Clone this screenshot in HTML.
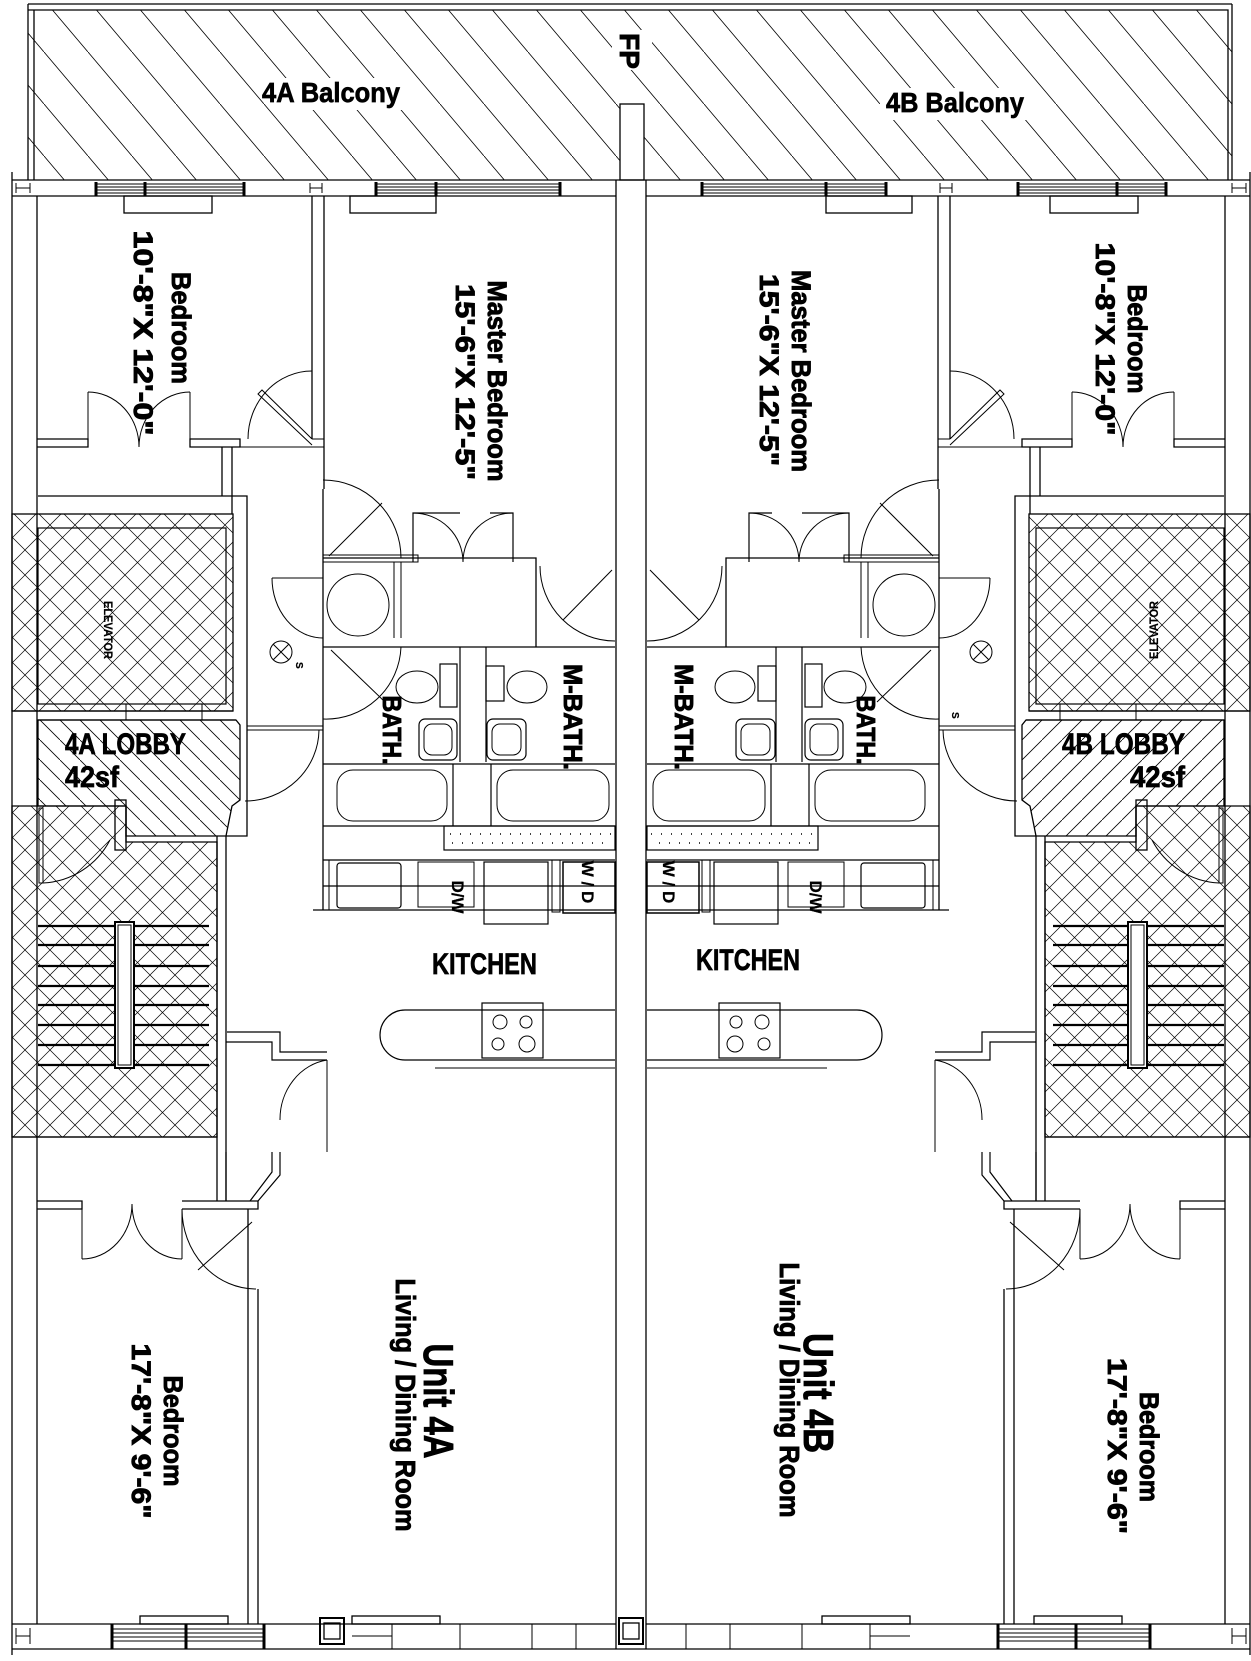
<!DOCTYPE html>
<html><head><meta charset="utf-8"><style>
html,body{margin:0;padding:0;background:#fff;}
svg{display:block;}
text{font-family:"Liberation Sans Narrow","Liberation Sans",sans-serif;font-weight:bold;fill:#000;stroke:#000;stroke-width:0.7;}
.w{font-family:"Liberation Sans",sans-serif;stroke-width:0.9;}
.t{stroke-width:0.2;}
</style></head><body>
<svg width="1251" height="1661" viewBox="0 0 1251 1661" xmlns="http://www.w3.org/2000/svg">
<defs>
<pattern id="bal" patternUnits="userSpaceOnUse" width="44" height="52"><line x1="0" y1="0" x2="44" y2="52" stroke="#000" stroke-width="0.8"/></pattern>
<pattern id="xh" patternUnits="userSpaceOnUse" width="25" height="25"><path d="M0 0L25 25M25 0L0 25" stroke="#000" stroke-width="0.7" fill="none"/></pattern>
<pattern id="lh" patternUnits="userSpaceOnUse" width="20" height="20"><line x1="0" y1="0" x2="20" y2="20" stroke="#000" stroke-width="0.8"/></pattern>
<g id="half" fill="none" stroke="#000" stroke-width="1.3">
  <line x1="12" y1="172" x2="12" y2="1655"/>
  <line x1="37" y1="196" x2="37" y2="1624"/>
  <line x1="12" y1="180" x2="631" y2="180"/>
  <line x1="12" y1="196" x2="616" y2="196"/>
  <line x1="616" y1="180" x2="616" y2="1649"/>
  <line x1="12" y1="1624" x2="616" y2="1624"/>
  <line x1="12" y1="1649" x2="631" y2="1649"/>
  <path d="M16 183V193M30 183V193M16 188H30M310 183V193M322 183V193M310 188H322" stroke-width="1"/>
  <path d="M16 1628V1644M30 1628V1644M16 1636H30" stroke-width="1"/>
  <path d="M96 184H244M96 187H244M96 190H244M96 193H244M376 184H560M376 187H560M376 190H560M376 193H560" stroke-width="1"/>
  <path d="M96 182V196M145 182V196M244 182V196M376 182V196M436 182V196M560 182V196" stroke-width="3"/>
  <rect x="124" y="196" width="88" height="17"/>
  <rect x="350" y="196" width="86" height="17"/>
  <path d="M112 1629H264M112 1633H264M112 1637H264M112 1641H264" stroke-width="1"/>
  <path d="M112 1624V1649M186 1624V1649M264 1624V1649" stroke-width="3"/>
  <rect x="140" y="1616" width="88" height="8"/>
  <rect x="352" y="1616" width="88" height="8"/>
  <path d="M392 1624V1649M460 1624V1649M532 1624V1649M576 1624V1649M352 1636H392" stroke-width="1"/>
  <path d="M312 196V439M324 196V489"/>
  <path d="M37 439H88V447H37M190 439H240V447H190Z"/>
  <path d="M88 447V392M190 447V392" stroke-width="1"/>
  <path d="M88 392A51 55 0 0 1 139 447M190 392A51 55 0 0 0 139 447" stroke-width="1"/>
  <path d="M312 439H324M312 447H324M240 447H312" stroke-width="1"/>
  <path d="M248 439A64 68 0 0 1 312 371" stroke-width="1"/>
  <path d="M312 439L262 390L258 394L312 445" stroke-width="1"/>
  <path d="M222 447V496M232 447V496M38 496H247V726M232 496V514"/>
  <rect x="12" y="514" width="221" height="197" fill="url(#xh)"/>
  <rect x="38" y="528" width="188" height="176" stroke-width="1.2"/>
  <path d="M12 711H233M38 720H236" />
  <path d="M126 704V720M202 704V720" stroke-width="1"/>
  <path d="M38 720H236L240 725V800L232 806L226 836H126V806H38Z" fill="url(#lh)"/>
  <rect x="115" y="800" width="11" height="50"/>
  <path d="M12 806H126V842H217V1137H12Z" fill="url(#xh)"/>
  <path d="M12 1137H217"/>
  <rect x="39" y="808" width="4" height="75" stroke-width="1"/>
  <path d="M43 883A80 80 0 0 0 110 840" stroke-width="1"/>
  <path d="M38 926H209M38 945H209M38 966H209M38 986H209M38 1005H209M38 1025H209M38 1045H209M38 1065H209" stroke-width="2.2"/>
  <rect x="115" y="922" width="19" height="146" fill="#fff" stroke-width="2"/>
  <rect x="118" y="925" width="13" height="140" stroke-width="1"/>
  <path d="M217 836V1201M226 836V1201M226 836H247V726"/>
  <path d="M247 726H323M247 730H323" stroke-width="1"/>
  <path d="M319 730A74 72 0 0 1 245 801" stroke-width="1"/>
  <path d="M323 489V910M323 558H536V647H323M323 647H615"/>
  <rect x="323" y="555" width="95" height="7" stroke-width="1"/>
  <path d="M394 562V638M401 562V638" stroke-width="1"/>
  <circle cx="358" cy="605" r="31" stroke-width="1"/>
  <path d="M413 562V513H460M513 562V513H490" stroke-width="1.2"/>
  <path d="M413 513A50 49 0 0 1 463 562M513 513A50 49 0 0 0 463 562" stroke-width="1"/>
  <path d="M323 480A78 78 0 0 1 401 558" stroke-width="1"/>
  <path d="M329 556L382 503" stroke-width="1"/>
  <path d="M272 578A51 60 0 0 0 323 638M272 578H323" stroke-width="1"/>
  <path d="M540 566A75 75 0 0 0 615 641M563 620L612 570" stroke-width="1"/>
  <path d="M401 647A75 75 0 0 1 323 719M331 650L385 702" stroke-width="1"/>
  <path d="M460 647V762M486 647V762" stroke-width="1.2"/>
  <rect x="440" y="664" width="17" height="43" stroke-width="1.2"/>
  <ellipse cx="417" cy="687" rx="21" ry="16" stroke-width="1"/>
  <rect x="486" y="666" width="18" height="35" stroke-width="1.2"/>
  <ellipse cx="527" cy="687" rx="20" ry="16" stroke-width="1"/>
  <rect x="419" y="719" width="38" height="41" rx="6" stroke-width="1.2"/>
  <rect x="424" y="724" width="28" height="31" rx="8" stroke-width="1"/>
  <rect x="487" y="719" width="39" height="41" rx="6" stroke-width="1.2"/>
  <rect x="492" y="724" width="29" height="31" rx="8" stroke-width="1"/>
  <path d="M323 764H615M323 826H615M453 764V826M491 764V826" stroke-width="1.2"/>
  <rect x="337" y="770" width="110" height="51" rx="16" stroke-width="1"/>
  <rect x="497" y="770" width="112" height="51" rx="16" stroke-width="1"/>
  <rect x="444" y="826" width="171" height="24" stroke-width="1.2"/>
  <g stroke-width="1.5" stroke-dasharray="1 9"><path d="M450 834H612M452 843H610"/></g>
  <path d="M313 910H615M323 860H615M323 886H615" stroke-width="1.2"/>
  <rect x="323" y="860" width="6" height="50" stroke-width="1"/>
  <rect x="337" y="863" width="64" height="45" rx="3" stroke-width="1.2"/>
  <rect x="418" y="862" width="56" height="45" stroke-width="1"/>
  <rect x="484" y="862" width="64" height="62" stroke-width="1.2"/>
  <rect x="552" y="860" width="8" height="52" stroke-width="1"/>
  <rect x="563" y="862" width="52" height="51" stroke-width="1.5"/>
  <path d="M615 1010H405A25 25 0 0 0 405 1060H615" stroke-width="1.2"/>
  <rect x="482" y="1003" width="61" height="55" stroke-width="1.2"/>
  <circle cx="500" cy="1022" r="7" stroke-width="1"/><circle cx="526" cy="1022" r="6" stroke-width="1"/>
  <circle cx="498" cy="1044" r="6" stroke-width="1"/><circle cx="527" cy="1044" r="8" stroke-width="1"/>
  <path d="M435 1068H615" stroke-width="1"/>
  <circle cx="281" cy="652" r="11" stroke-width="1"/><path d="M273 644L289 660M289 644L273 660" stroke-width="1"/>
  <path d="M227 1032H280V1052H327M226 1042H272V1060H327" stroke-width="1.2"/>
  <path d="M327 1060A55 60 0 0 0 280 1120M327 1060V1152" stroke-width="1"/>
  <path d="M280 1152V1175L258 1201M272 1152V1172L250 1201M226 1201V1152" stroke-width="1.2"/>
  <path d="M37 1201H82V1209H37M182 1201H258V1209H182"/>
  <path d="M82 1209V1259M182 1209V1259" stroke-width="1"/>
  <path d="M82 1259A50 55 0 0 0 132 1204M182 1259A50 55 0 0 1 132 1204" stroke-width="1"/>
  <path d="M248 1209V1624M258 1289V1624"/>
  <path d="M256 1289A74 80 0 0 1 182 1209M252 1222L198 1270" stroke-width="1"/>
</g>
</defs>
<rect x="28" y="10" width="1204" height="170" fill="url(#bal)" stroke="none"/>
<path d="M28 4H1232M28 10H1228V180M28 4V180M34 10V180M1232 4V180" fill="none" stroke="#000" stroke-width="1.3"/>
<rect x="620" y="104" width="24" height="76" fill="#fff" stroke="#000" stroke-width="1.3"/>
<rect x="270" y="78" width="140" height="32" fill="#fff"/>
<rect x="880" y="88" width="150" height="32" fill="#fff"/>
<rect x="612" y="30" width="40" height="40" fill="#fff"/>
<use href="#half"/>
<use href="#half" transform="translate(1262,0) scale(-1,1)"/>
<g fill="none" stroke="#000">
  <rect x="320" y="1618" width="24" height="26" stroke-width="2"/>
  <rect x="324" y="1623" width="16" height="16" stroke-width="1.3"/>
  <rect x="619" y="1618" width="24" height="26" fill="#fff" stroke-width="2"/>
  <rect x="623" y="1623" width="16" height="16" stroke-width="1.3"/>
</g>
<text x="262" y="102" font-size="28" textLength="138" lengthAdjust="spacingAndGlyphs">4A Balcony</text>
<text x="886" y="112" font-size="28" textLength="138" lengthAdjust="spacingAndGlyphs">4B Balcony</text>
<text class="w" transform="translate(620,51) rotate(90)" text-anchor="middle" font-size="28">FP</text>

<text class="w" transform="translate(172,328) rotate(90)" text-anchor="middle" font-size="27" textLength="112" lengthAdjust="spacingAndGlyphs">Bedroom</text>
<text class="w" transform="translate(134,333) rotate(90)" text-anchor="middle" font-size="27" textLength="205" lengthAdjust="spacingAndGlyphs">10'-8"X 12'-0"</text>
<text class="w" transform="translate(488,381) rotate(90)" text-anchor="middle" font-size="27" textLength="201" lengthAdjust="spacingAndGlyphs">Master Bedroom</text>
<text class="w" transform="translate(456,382) rotate(90)" text-anchor="middle" font-size="27" textLength="196" lengthAdjust="spacingAndGlyphs">15'-6"X 12'-5"</text>
<text class="w" transform="translate(792,371) rotate(90)" text-anchor="middle" font-size="27" textLength="202" lengthAdjust="spacingAndGlyphs">Master Bedroom</text>
<text class="w" transform="translate(760,370) rotate(90)" text-anchor="middle" font-size="27" textLength="192" lengthAdjust="spacingAndGlyphs">15'-6"X 12'-5"</text>
<text class="w" transform="translate(1128,339) rotate(90)" text-anchor="middle" font-size="27" textLength="109" lengthAdjust="spacingAndGlyphs">Bedroom</text>
<text class="w" transform="translate(1096,339) rotate(90)" text-anchor="middle" font-size="27" textLength="193" lengthAdjust="spacingAndGlyphs">10'-8"X 12'-0"</text>

<text class="w" transform="translate(164,1431) rotate(90)" text-anchor="middle" font-size="27" textLength="111" lengthAdjust="spacingAndGlyphs">Bedroom</text>
<text class="w" transform="translate(132,1431) rotate(90)" text-anchor="middle" font-size="27" textLength="175" lengthAdjust="spacingAndGlyphs">17'-8"X 9'-6"</text>
<text class="w" transform="translate(424,1401) rotate(90)" text-anchor="middle" font-size="42" textLength="115" lengthAdjust="spacingAndGlyphs">Unit 4A</text>
<text class="w" transform="translate(396,1405) rotate(90)" text-anchor="middle" font-size="28" textLength="253" lengthAdjust="spacingAndGlyphs">Living / Dining Room</text>
<text class="w" transform="translate(804,1393) rotate(90)" text-anchor="middle" font-size="42" textLength="120" lengthAdjust="spacingAndGlyphs">Unit 4B</text>
<text class="w" transform="translate(780,1390) rotate(90)" text-anchor="middle" font-size="28" textLength="255" lengthAdjust="spacingAndGlyphs">Living / Dining Room</text>
<text class="w" transform="translate(1140,1447) rotate(90)" text-anchor="middle" font-size="27" textLength="110" lengthAdjust="spacingAndGlyphs">Bedroom</text>
<text class="w" transform="translate(1108,1446) rotate(90)" text-anchor="middle" font-size="27" textLength="176" lengthAdjust="spacingAndGlyphs">17'-8"X 9'-6"</text>

<text x="65" y="754" font-size="30" textLength="121" lengthAdjust="spacingAndGlyphs">4A LOBBY</text>
<text x="65" y="787" font-size="30" textLength="54" lengthAdjust="spacingAndGlyphs">42sf</text>
<text x="1062" y="754" font-size="30" textLength="123" lengthAdjust="spacingAndGlyphs">4B LOBBY</text>
<text x="1130" y="787" font-size="30" textLength="55" lengthAdjust="spacingAndGlyphs">42sf</text>
<text x="432" y="974" font-size="30" textLength="105" lengthAdjust="spacingAndGlyphs">KITCHEN</text>
<text x="696" y="970" font-size="30" textLength="104" lengthAdjust="spacingAndGlyphs">KITCHEN</text>

<text class="w" transform="translate(383,730) rotate(90)" text-anchor="middle" font-size="26" textLength="69" lengthAdjust="spacingAndGlyphs">BATH.</text>
<text class="w" transform="translate(564,717) rotate(90)" text-anchor="middle" font-size="26" textLength="106" lengthAdjust="spacingAndGlyphs">M-BATH.</text>
<text class="w" transform="translate(675,717) rotate(90)" text-anchor="middle" font-size="26" textLength="106" lengthAdjust="spacingAndGlyphs">M-BATH.</text>
<text class="w" transform="translate(857,730) rotate(90)" text-anchor="middle" font-size="26" textLength="69" lengthAdjust="spacingAndGlyphs">BATH.</text>
<text class="w t" transform="translate(104,630) rotate(90)" text-anchor="middle" font-size="12" textLength="58" lengthAdjust="spacingAndGlyphs">ELEVATOR</text>
<text class="w t" transform="translate(1158,630) rotate(-90)" text-anchor="middle" font-size="12" textLength="58" lengthAdjust="spacingAndGlyphs">ELEVATOR</text>
<text class="w t" transform="translate(452,897) rotate(90)" text-anchor="middle" font-size="17" font-weight="normal">D/W</text>
<text class="w t" transform="translate(810,897) rotate(90)" text-anchor="middle" font-size="17" font-weight="normal">D/W</text>
<text class="w t" transform="translate(582,882) rotate(90)" text-anchor="middle" font-size="17" font-weight="normal">W / D</text>
<text class="w t" transform="translate(663,882) rotate(90)" text-anchor="middle" font-size="17" font-weight="normal">W / D</text>
<text class="w t" transform="translate(296,662) rotate(90)" font-size="10" font-weight="normal">S</text>
<text class="w t" transform="translate(952,712) rotate(90)" font-size="10" font-weight="normal">S</text>
</svg>
</body></html>
